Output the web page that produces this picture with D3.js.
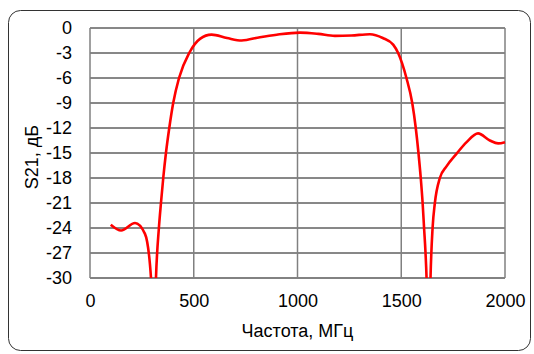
<!DOCTYPE html>
<html>
<head>
<meta charset="utf-8">
<script src="https://cdn.jsdelivr.net/npm/d3@7"></script>
<style>
  body { margin: 0; background: #fff; }
  svg { display: block; font-family: "Liberation Sans", Arial, sans-serif; }
</style>
</head>
<body>
<svg id="chart" width="534" height="354"></svg>
<script>
// S21 frequency response
const freq = [100, 150, 217, 265, 294, 306, 318, 332, 342, 353, 366, 382, 401, 429, 478, 530, 586, 660, 731, 819, 900, 1012, 1100, 1180, 1260, 1349, 1411, 1461, 1485, 1525, 1553, 1570, 1583, 1594, 1603, 1610, 1617, 1622, 1632, 1641, 1651, 1662, 1686, 1718, 1766, 1815, 1870, 1927, 1967, 2000];
const s21 = [-23.6, -24.3, -23.4, -24.7, -30, -42, -30, -24, -21, -18, -15, -12, -9, -6, -3, -1.3, -0.8, -1.2, -1.5, -1.1, -0.8, -0.55, -0.7, -0.95, -0.9, -0.75, -1.2, -2.0, -3, -6, -9, -12, -15, -18, -21, -24, -27, -30, -42, -30, -24, -21, -18, -16.6, -15.1, -13.7, -12.65, -13.5, -13.85, -13.7];
const xTicks = [0, 500, 1000, 1500, 2000];
const yTicks = [0, -3, -6, -9, -12, -15, -18, -21, -24, -27, -30];

const W = 534, H = 354;
const margin = { top: 28, right: 29, bottom: 76, left: 90 };
const width = W - margin.left - margin.right,
      height = H - margin.top - margin.bottom;

const svg = d3.select("#chart");

// rounded frame
svg.append("rect")
  .attr("x", 8.5).attr("y", 10.5)
  .attr("width", 522).attr("height", 340)
  .attr("rx", 12)
  .attr("fill", "#fff")
  .attr("stroke", "#333")
  .attr("stroke-width", 1);

const g = svg.append("g")
  .attr("transform", "translate(" + margin.left + "," + margin.top + ")");

const x = d3.scaleLinear().domain([0, 2000]).range([0, width]);
const y = d3.scaleLinear().domain([-30, 0]).range([height, 0]);

// horizontal grid
g.append("g")
  .selectAll("line")
  .data(yTicks)
  .enter().append("line")
  .attr("x1", 0).attr("x2", width)
  .attr("y1", d => y(d)).attr("y2", d => y(d))
  .attr("stroke", "#111").attr("stroke-width", 1);

// vertical grid
g.append("g")
  .selectAll("line")
  .data(xTicks)
  .enter().append("line")
  .attr("x1", d => x(d)).attr("x2", d => x(d))
  .attr("y1", 0).attr("y2", height)
  .attr("stroke", "#808080").attr("stroke-width", 1.5);

// bottom edge
g.append("line")
  .attr("x1", 0).attr("x2", width)
  .attr("y1", height).attr("y2", height)
  .attr("stroke", "#808080").attr("stroke-width", 1.5);

// axes (labels only), plain hyphen minus like the original
const yAxis = g.append("g")
  .call(d3.axisLeft(y).tickValues(yTicks).tickSize(0).tickPadding(18)
    .tickFormat(d => String(d)));
yAxis.select(".domain").remove();
yAxis.selectAll("text").attr("font-size", 18).attr("fill", "#000")
  .attr("font-family", "Liberation Sans, Arial, sans-serif");

const xAxis = g.append("g")
  .attr("transform", "translate(0," + height + ")")
  .call(d3.axisBottom(x).tickValues(xTicks).tickSize(0).tickPadding(16)
    .tickFormat(d => String(d)));
xAxis.select(".domain").remove();
xAxis.selectAll("text").attr("font-size", 18).attr("fill", "#000")
  .attr("font-family", "Liberation Sans, Arial, sans-serif");

// clip for the curve
svg.append("clipPath").attr("id", "plotclip")
  .append("rect").attr("x", -2).attr("y", -2)
  .attr("width", width + 4).attr("height", height + 2);

const pts = freq.map((f, i) => [f, s21[i]]);
const line = d3.line()
  .x(d => x(d[0]))
  .y(d => y(d[1]))
  .curve(d3.curveMonotoneX);

g.append("path")
  .datum(pts)
  .attr("clip-path", "url(#plotclip)")
  .attr("d", line)
  .attr("fill", "none")
  .attr("stroke", "#ff0000")
  .attr("stroke-width", 2.6)
  .attr("stroke-linejoin", "round");

// axis titles
svg.append("text")
  .attr("x", margin.left + width / 2)
  .attr("y", 337)
  .attr("text-anchor", "middle")
  .attr("font-size", 18)
  .text("Частота, МГц");

svg.append("text")
  .attr("transform", "translate(38," + (margin.top + height / 2 + 4) + ") rotate(-90)")
  .attr("text-anchor", "middle")
  .attr("font-size", 18)
  .text("S21, дБ");
</script>
</body>
</html>
